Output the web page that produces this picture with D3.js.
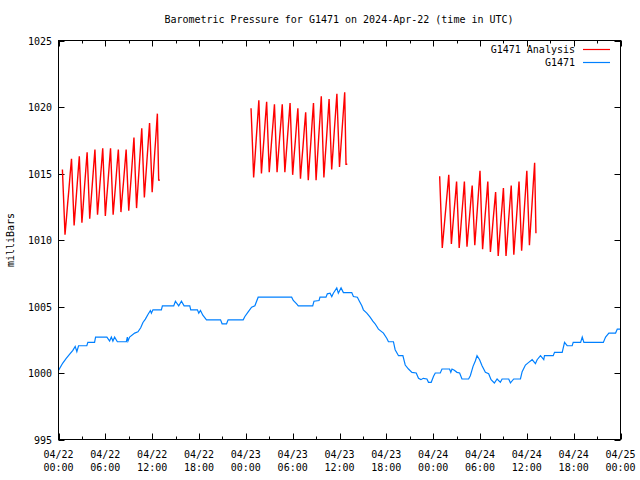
<!DOCTYPE html>
<html><head><meta charset="utf-8">
<script src="https://cdn.jsdelivr.net/npm/d3@7"></script>
<style>
body{margin:0;background:#fff}
text{font-family:"DejaVu Sans Mono",monospace;font-size:10px;fill:#000}
</style>
</head><body><svg id="c" width="640" height="480"></svg>
<script>
const title = "Barometric Pressure for G1471 on 2024-Apr-22 (time in UTC)";
const yTitle = "milliBars";
const seriesNames = ["G1471 Analysis", "G1471"];
const seriesColors = ["#ff0000", "#0080ff"];
const xTickHours = [0, 6, 12, 18, 24, 30, 36, 42, 48, 54, 60, 66, 72];
const xTickDates = ["04/22","04/22","04/22","04/22","04/23","04/23","04/23","04/23","04/24","04/24","04/24","04/24","04/25"];
const xTickTimes = ["00:00","06:00","12:00","18:00","00:00","06:00","12:00","18:00","00:00","06:00","12:00","18:00","00:00"];
const yTicks = [995, 1000, 1005, 1010, 1015, 1020, 1025];

// Analysis segments: start hour (from 04/22 00:00), values every 10 minutes
const analysisStart = [0.5, 24 + 40/60, 48 + 50/60];
const analysis1 = [
 1015.3, 1012.9, 1010.4, 1011.5, 1012.7, 1013.8, 1015.0, 1016.1,
 1013.6, 1011.1, 1012.4, 1013.7, 1015.0, 1016.3,
 1013.8, 1011.3, 1012.6, 1014.0, 1015.3, 1016.6,
 1014.2, 1011.6, 1012.9, 1014.2, 1015.5, 1016.8,
 1014.3, 1011.9, 1013.1, 1014.4, 1015.6, 1016.9,
 1014.4, 1011.8, 1013.1, 1014.3, 1015.6, 1016.9,
 1014.4, 1011.9, 1013.1, 1014.3, 1015.6, 1016.8,
 1014.5, 1012.1, 1013.3, 1014.4, 1015.6, 1016.8,
 1014.5, 1012.2, 1013.6, 1014.9, 1016.3, 1017.7,
 1015.0, 1012.4, 1013.9, 1015.4, 1016.9, 1018.4,
 1015.8, 1013.2, 1014.6, 1016.0, 1017.4, 1018.8,
 1016.2, 1013.6, 1015.1, 1016.6, 1018.0, 1019.5,
 1014.5, 1014.5
];
const analysis2 = [
 1019.9,
 1017.4, 1014.7, 1016.1, 1017.6, 1019.0, 1020.5,
 1017.7, 1015.0, 1016.4, 1017.7, 1019.1, 1020.4,
 1017.7, 1015.1, 1016.4, 1017.7, 1018.9, 1020.2,
 1017.6, 1015.1, 1016.4, 1017.7, 1018.9, 1020.2,
 1017.6, 1015.1, 1016.4, 1017.7, 1019.0, 1020.3,
 1017.6, 1014.9, 1016.2, 1017.4, 1018.7, 1019.9,
 1017.2, 1014.6, 1015.9, 1017.1, 1018.4, 1019.6,
 1017.0, 1014.5, 1016.0, 1017.4, 1018.9, 1020.3,
 1017.4, 1014.5, 1016.1, 1017.7, 1019.2, 1020.8,
 1017.7, 1014.7, 1016.2, 1017.6, 1019.1, 1020.6,
 1017.9, 1015.3, 1016.7, 1018.2, 1019.6, 1021.0,
 1018.2, 1015.5, 1016.9, 1018.3, 1019.7, 1021.1,
 1015.7, 1015.7
];
const analysis3 = [
 1014.8, 1012.1, 1009.4, 1010.5, 1011.6, 1012.7, 1013.8, 1014.9,
 1012.3, 1009.7, 1010.9, 1012.1, 1013.2, 1014.4,
 1011.9, 1009.4, 1010.6, 1011.9, 1013.1, 1014.4,
 1011.9, 1009.5, 1010.7, 1011.8, 1013.0, 1014.1,
 1011.8, 1009.6, 1011.0, 1012.4, 1013.8, 1015.2,
 1012.2, 1009.3, 1010.6, 1011.9, 1013.1, 1014.4,
 1011.7, 1009.1, 1010.2, 1011.4, 1012.5, 1013.6,
 1011.2, 1008.8, 1010.1, 1011.4, 1012.6, 1013.9,
 1011.3, 1008.8, 1010.1, 1011.5, 1012.8, 1014.1,
 1011.5, 1008.9, 1010.3, 1011.6, 1013.0, 1014.4,
 1011.8, 1009.2, 1010.7, 1012.2, 1013.7, 1015.2,
 1012.4, 1009.6, 1011.2, 1012.7, 1014.3, 1015.8,
 1010.5
];
const analysisSegments = [analysis1, analysis2, analysis3];

// Observed: [hour from 04/22 00:00, mbar]
const observed = [
 [0,1000.2],[0.55,1000.75],[0.99,1001.1],[1.41,1001.4],[1.84,1001.7],[2.14,1002.0],[2.35,1001.6],[2.57,1002.05],
 [3.63,1002.05],[3.76,1002.3],[4.62,1002.3],[4.75,1002.7],[6.2,1002.7],[6.55,1002.4],[6.77,1002.7],[6.97,1002.4],
 [7.19,1002.7],[7.54,1002.35],[8.69,1002.35],[8.82,1002.7],[8.9,1002.4],[9.11,1002.7],[9.76,1003.0],[10.18,1003.1],
 [10.53,1003.4],[10.82,1003.8],[11.13,1004.05],[11.46,1004.4],[11.77,1004.7],[11.9,1004.5],[12.1,1004.75],[13.18,1004.75],
 [13.31,1005.05],[14.76,1005.05],[14.98,1005.4],[15.4,1005.05],[15.75,1005.4],[16.09,1005.05],[16.82,1005.05],[16.94,1004.75],
 [17.8,1004.75],[17.97,1004.5],[18.19,1004.7],[18.49,1004.35],[18.96,1004.0],[20.76,1004.0],[20.96,1003.7],[21.53,1003.7],
 [21.73,1004.0],[23.66,1004.0],[23.88,1004.25],[24.3,1004.6],[24.74,1004.95],[25.16,1005.05],[25.58,1005.7],[29.87,1005.7],
 [30.08,1005.45],[30.51,1005.2],[30.72,1005.05],[32.57,1005.05],[32.73,1005.4],[33.38,1005.45],[33.5,1005.7],[34.27,1005.7],
 [34.44,1005.95],[34.79,1006.0],[35.01,1005.75],[35.21,1006.0],[35.65,1006.4],[35.85,1006.0],[36.2,1006.4],[36.5,1006.05],
 [37.57,1006.05],[37.78,1005.75],[38.29,1005.7],[38.55,1005.4],[38.86,1005.05],[39.06,1004.75],[39.5,1004.5],[39.92,1004.2],
 [40.27,1003.9],[40.56,1003.7],[40.99,1003.3],[41.63,1003.0],[42.07,1002.6],[42.27,1002.35],[42.91,1002.35],[43.13,1001.75],
 [43.56,1001.3],[44.12,1001.3],[44.42,1000.6],[44.84,1000.3],[45.28,1000.05],[45.83,1000.0],[46.12,999.6],[46.43,999.5],
 [46.73,999.6],[47.2,999.55],[47.4,999.3],[47.75,999.3],[48.05,999.75],[48.27,1000.0],[48.91,1000.0],[49.13,1000.3],
 [50.1,1000.3],[50.26,1000.05],[50.41,1000.3],[50.71,1000.2],[51.05,1000.05],[51.39,1000.0],[51.69,999.55],[52.54,999.55],
 [52.76,999.8],[53.11,1000.5],[53.4,1000.9],[53.62,1001.3],[53.95,1001.0],[54.26,1000.55],[54.69,1000.05],[55.11,999.95],
 [55.42,999.5],[55.84,999.25],[56.19,999.55],[56.61,999.3],[56.83,999.55],[57.68,999.55],[57.9,999.25],[58.32,999.55],
 [59.18,999.55],[59.4,1000.1],[59.82,1000.6],[60.24,1000.8],[60.68,1001.0],[61.1,1000.7],[61.32,1001.0],[61.75,1001.3],
 [62.17,1001.0],[62.26,1001.3],[63.38,1001.3],[63.55,1001.55],[64.53,1001.55],[64.83,1002.3],[65.17,1002.05],[65.81,1002.05],
 [65.94,1002.3],[66.89,1002.3],[67.1,1002.7],[67.31,1002.3],[69.8,1002.3],[70.09,1002.7],[70.51,1003.0],[71.37,1003.0],
 [71.59,1003.3],[72,1003.3]
];

const svg = d3.select("#c");
const L = 58.5, R = 620.5, T = 40.5, B = 439.5;
const x = d3.scaleLinear().domain([0, 72]).range([L, R]);
const y = d3.scaleLinear().domain([995, 1025]).range([B, T]);

svg.append("rect").attr("width",640).attr("height",480).attr("fill","#fff");

// title
svg.append("text").attr("x", 339).attr("y", 23).attr("text-anchor","middle").text(title);

// ticks (all four sides, inward)
const tg = svg.append("g").attr("stroke","#000").attr("stroke-width",1);
d3.range(0, 73, 3).forEach(h => {
  const len = (h % 6 === 0) ? 6 : 3;
  const px = Math.round(x(h)) + 0.5;
  tg.append("line").attr("x1",px).attr("x2",px).attr("y1",B).attr("y2",B-len);
  tg.append("line").attr("x1",px).attr("x2",px).attr("y1",T).attr("y2",T+len);
});
yTicks.forEach(v => {
  const py = Math.round(y(v)) + 0.5;
  tg.append("line").attr("x1",L).attr("x2",L+6).attr("y1",py).attr("y2",py);
  tg.append("line").attr("x1",R).attr("x2",R-6).attr("y1",py).attr("y2",py);
});

// y tick labels
yTicks.forEach(v => {
  svg.append("text").attr("x", 52).attr("y", y(v) + 4).attr("text-anchor","end").text(v);
});
// x tick labels
xTickHours.forEach((h, i) => {
  svg.append("text").attr("x", x(h)).attr("y", 458).attr("text-anchor","middle").text(xTickDates[i]);
  svg.append("text").attr("x", x(h)).attr("y", 471).attr("text-anchor","middle").text(xTickTimes[i]);
});
// y axis title
svg.append("text").attr("transform","translate(14,240) rotate(-90)").attr("text-anchor","middle").text(yTitle);

// analysis series
const aLine = d3.line().x(d => x(d[0])).y(d => y(d[1]));
analysisSegments.forEach((seg, k) => {
  const pts = seg.map((v, i) => [analysisStart[k] + i / 6, v]);
  svg.append("path").attr("d", aLine(pts)).attr("fill","none")
    .attr("stroke", seriesColors[0]).attr("stroke-width", 1.4);
});

// observed
const line = d3.line().x(d => x(d[0])).y(d => y(d[1]));
svg.append("path").attr("d", line(observed)).attr("fill","none")
  .attr("stroke", seriesColors[1]).attr("stroke-width", 1.2);

// border
svg.append("rect").attr("x",L).attr("y",T).attr("width",R-L).attr("height",B-T)
  .attr("fill","none").attr("stroke","#000").attr("stroke-width",1);

// legend
seriesNames.forEach((n, i) => {
  const ly = 49 + i * 13;
  svg.append("text").attr("x", 575).attr("y", ly + 4).attr("text-anchor","end").text(n);
  svg.append("line").attr("x1",583).attr("x2",610).attr("y1",ly+0.5).attr("y2",ly+0.5)
    .attr("stroke", seriesColors[i]).attr("stroke-width",1.2);
});
</script></body></html>
